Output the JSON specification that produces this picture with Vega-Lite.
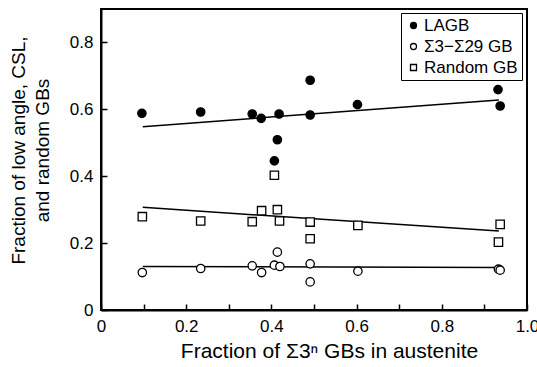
{
  "$schema": "https://vega.github.io/schema/vega-lite/v6.json",
  "width": 426,
  "height": 301,
  "autosize": {"type": "none"},
  "padding": {"left": 101, "top": 9, "right": 10, "bottom": 57},
  "config": {
    "font": "Liberation Sans",
    "view": {"stroke": "black", "strokeWidth": 2},
    "axis": {
      "grid": false,
      "domainColor": "black",
      "domainWidth": 2,
      "tickColor": "black",
      "tickWidth": 1.5,
      "tickSize": -6,
      "labelColor": "black",
      "labelFontSize": 17,
      "titleColor": "black",
      "titleFontWeight": "normal"
    },
    "legend": {
      "symbolStrokeWidth": 1.3
    }
  },
  "datasets": {
    "pts": [
      {"x": 0.096, "y": 0.588, "series": "LAGB"},
      {"x": 0.234, "y": 0.592, "series": "LAGB"},
      {"x": 0.355, "y": 0.586, "series": "LAGB"},
      {"x": 0.376, "y": 0.573, "series": "LAGB"},
      {"x": 0.418, "y": 0.586, "series": "LAGB"},
      {"x": 0.414, "y": 0.509, "series": "LAGB"},
      {"x": 0.407, "y": 0.446, "series": "LAGB"},
      {"x": 0.491, "y": 0.687, "series": "LAGB"},
      {"x": 0.491, "y": 0.583, "series": "LAGB"},
      {"x": 0.602, "y": 0.614, "series": "LAGB"},
      {"x": 0.932, "y": 0.659, "series": "LAGB"},
      {"x": 0.937, "y": 0.610, "series": "LAGB"},
      {"x": 0.097, "y": 0.112, "series": "Σ3−Σ29 GB"},
      {"x": 0.234, "y": 0.124, "series": "Σ3−Σ29 GB"},
      {"x": 0.355, "y": 0.132, "series": "Σ3−Σ29 GB"},
      {"x": 0.377, "y": 0.112, "series": "Σ3−Σ29 GB"},
      {"x": 0.407, "y": 0.134, "series": "Σ3−Σ29 GB"},
      {"x": 0.414, "y": 0.173, "series": "Σ3−Σ29 GB"},
      {"x": 0.420, "y": 0.130, "series": "Σ3−Σ29 GB"},
      {"x": 0.491, "y": 0.138, "series": "Σ3−Σ29 GB"},
      {"x": 0.491, "y": 0.084, "series": "Σ3−Σ29 GB"},
      {"x": 0.603, "y": 0.116, "series": "Σ3−Σ29 GB"},
      {"x": 0.933, "y": 0.122, "series": "Σ3−Σ29 GB"},
      {"x": 0.937, "y": 0.119, "series": "Σ3−Σ29 GB"},
      {"x": 0.097, "y": 0.279, "series": "Random GB"},
      {"x": 0.234, "y": 0.266, "series": "Random GB"},
      {"x": 0.355, "y": 0.264, "series": "Random GB"},
      {"x": 0.377, "y": 0.297, "series": "Random GB"},
      {"x": 0.414, "y": 0.300, "series": "Random GB"},
      {"x": 0.419, "y": 0.266, "series": "Random GB"},
      {"x": 0.407, "y": 0.403, "series": "Random GB"},
      {"x": 0.491, "y": 0.263, "series": "Random GB"},
      {"x": 0.491, "y": 0.213, "series": "Random GB"},
      {"x": 0.603, "y": 0.253, "series": "Random GB"},
      {"x": 0.937, "y": 0.256, "series": "Random GB"},
      {"x": 0.933, "y": 0.203, "series": "Random GB"}
    ],
    "fits": [
      {"x": 0.098, "y": 0.548, "series": "LAGB"},
      {"x": 0.934, "y": 0.628, "series": "LAGB"},
      {"x": 0.098, "y": 0.130, "series": "Σ3−Σ29 GB"},
      {"x": 0.934, "y": 0.127, "series": "Σ3−Σ29 GB"},
      {"x": 0.098, "y": 0.307, "series": "Random GB"},
      {"x": 0.934, "y": 0.236, "series": "Random GB"}
    ]
  },
  "layer": [
    {
      "data": {"name": "fits"},
      "mark": {"type": "line", "color": "black", "strokeWidth": 1.5},
      "encoding": {
        "x": {"field": "x", "type": "quantitative"},
        "y": {"field": "y", "type": "quantitative"},
        "detail": {"field": "series"}
      }
    },
    {
      "data": {"name": "pts"},
      "mark": {"type": "point", "filled": true, "strokeWidth": 1.3, "opacity": 1, "size": 70},
      "encoding": {
        "x": {
          "field": "x",
          "type": "quantitative",
          "scale": {"domain": [0, 1], "nice": false},
          "axis": {
            "title": "Fraction of Σ3ⁿ GBs in austenite",
            "titleFontSize": 21,
            "titleX": 228,
            "values": [0, 0.1, 0.2, 0.3, 0.4, 0.5, 0.6, 0.7, 0.8, 0.9, 1.0],
            "labelExpr": "round(datum.value*10) % 2 == 0 ? (datum.value == 0 ? '0' : format(datum.value, '.1f')) : ''",
            "labelPadding": 14,
            "titlePadding": 6,
            "labelFlush": false
          }
        },
        "y": {
          "field": "y",
          "type": "quantitative",
          "scale": {"domain": [0, 0.9], "nice": false},
          "axis": {
            "title": ["Fraction of low angle, CSL,", "and random GBs"],
            "titleFontSize": 19,
            "titleY": 141,
            "values": [0, 0.1, 0.2, 0.3, 0.4, 0.5, 0.6, 0.7, 0.8],
            "labelExpr": "round(datum.value*10) % 2 == 0 ? (datum.value == 0 ? '0' : format(datum.value, '.1f')) : ''",
            "labelPadding": 14,
            "titlePadding": 17,
            "titleLineHeight": 24
          }
        },
        "shape": {
          "field": "series",
          "type": "nominal",
          "scale": {"domain": ["LAGB", "Σ3−Σ29 GB", "Random GB"], "range": ["circle", "circle", "square"]},
          "legend": {
            "title": null, "orient": "none", "legendX": 300, "legendY": 4,
            "symbolSize": 36, "labelFontSize": 17, "labelColor": "black",
            "strokeColor": "black", "fillColor": "white", "padding": 4,
            "labelOffset": 2, "rowPadding": 3
          }
        },
        "fill": {
          "field": "series",
          "type": "nominal",
          "scale": {"domain": ["LAGB", "Σ3−Σ29 GB", "Random GB"], "range": ["black", "white", "white"]},
          "legend": {
            "title": null, "orient": "none", "legendX": 300, "legendY": 4,
            "symbolSize": 36, "labelFontSize": 17, "labelColor": "black",
            "strokeColor": "black", "fillColor": "white", "padding": 4,
            "labelOffset": 2, "rowPadding": 3
          }
        },
        "stroke": {
          "field": "series",
          "type": "nominal",
          "scale": {"domain": ["LAGB", "Σ3−Σ29 GB", "Random GB"], "range": ["black", "black", "black"]},
          "legend": {
            "title": null, "orient": "none", "legendX": 300, "legendY": 4,
            "symbolSize": 36, "labelFontSize": 17, "labelColor": "black",
            "strokeColor": "black", "fillColor": "white", "padding": 4,
            "labelOffset": 2, "rowPadding": 3
          }
        }
      }
    }
  ]
}
